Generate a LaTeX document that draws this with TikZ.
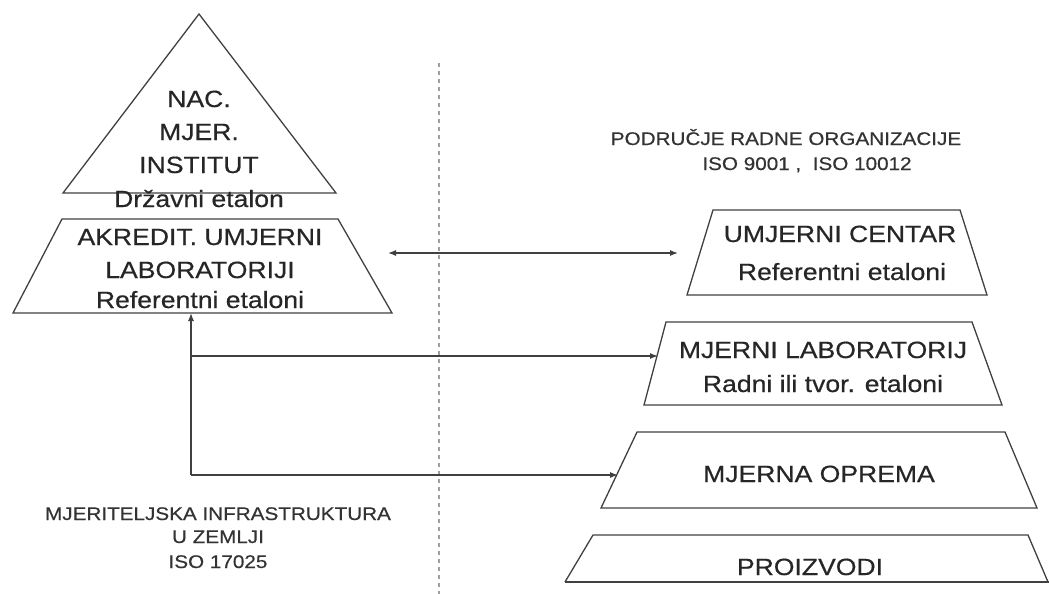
\documentclass[tikz,border=0pt]{standalone}
\usepackage{fontspec}
\setmainfont{Liberation Sans}[FakeStretch=1.13, FakeBold=0.5]
\usetikzlibrary{arrows.meta}
\begin{document}
\begin{tikzpicture}[x=1pt, y=-1pt,
	>={Latex[length=8pt,width=6pt]},
	level/.style = {draw=black!75, line width=1.3pt, line join=miter},
	link/.style = {draw=black!75, line width=1.2pt},
	big/.style = {anchor=base, inner sep=0pt, text=black!85,
		font=\fontsize{23.5}{28}\selectfont},
	small/.style = {anchor=base, inner sep=0pt, text=black!80,
		font=\fontsize{18.3}{22}\selectfont}]

	\useasboundingbox (0,0) rectangle (1049,594);

	% dividing line
	\draw[gray!75, line width=2pt, dash pattern=on 4pt off 4pt] (439,63) -- (439,594);

	% left pyramid
	\draw[level] (199,14) -- (336,193) -- (63,193) -- cycle;
	\draw[level] (62,219) -- (338,219) -- (392,313) -- (13,313) -- cycle;

	\node[big] (nac) at (199,107) {NAC.};
	\node[big] (mjer) at (199,140) {MJER.};
	\node[big] (inst) at (199,173) {INSTITUT};
	\node[big] (drz) at (199,207) {Državni etalon};
	\node[big] (akr) at (200,245) {AKREDIT. UMJERNI};
	\node[big] (lab) at (200,278) {LABORATORIJI};
	\node[big] (ref) at (200,308) {Referentni etaloni};

	% right pyramid
	\draw[level] (713,210) -- (960,210) -- (987,295) -- (687,295) -- cycle;
	\draw[level] (666,322) -- (972,322) -- (1002,405) -- (644,405) -- cycle;
	\draw[level] (637,432) -- (1005,432) -- (1037,508) -- (601,508) -- cycle;
	\draw[level] (565,582) -- (593,535) -- (1028,535) -- (1048,582);
	\draw[level, line width=2.6pt] (565,582) -- (1049,582);

	\node[big] (ucen) at (840,242) {UMJERNI CENTAR};
	\node[big] (uref) at (842,280) {Referentni etaloni};
	\node[big] (mlab) at (823,358) {MJERNI LABORATORIJ};
	\node[big] (mrad) at (823,392) {Radni ili tvor. etaloni};
	\node[big] (opr) at (819,482) {MJERNA OPREMA};
	\node[big] (pro) at (810,575) {PROIZVODI};

	% captions
	\node[small] (podr) at (786,145) {PODRUČJE RADNE ORGANIZACIJE};
	\node[small] (iso1) at (807,170) {ISO 9001 ,\ \ ISO 10012};
	\node[small] (infra) at (218,520) {MJERITELJSKA INFRASTRUKTURA};
	\node[small] (zem) at (218,543) {U ZEMLJI};
	\node[small] (iso2) at (218,568) {ISO 17025};

	% connectors
	\coordinate (accR) at (388,253);
	\coordinate (cenL) at (678,253);
	\coordinate (accB) at (191,313);
	\coordinate (split) at (191,356);
	\coordinate (foot) at (191,475);
	\coordinate (labL) at (658,356);
	\coordinate (oprL) at (618,475);

	\draw[link, <->] (accR) -- (cenL);
	\draw[link, ->] (foot) -- (accB);
	\draw[link, ->] (split) -- (labL);
	\draw[link, ->] (foot) -- (oprL);

\end{tikzpicture}
\end{document}
